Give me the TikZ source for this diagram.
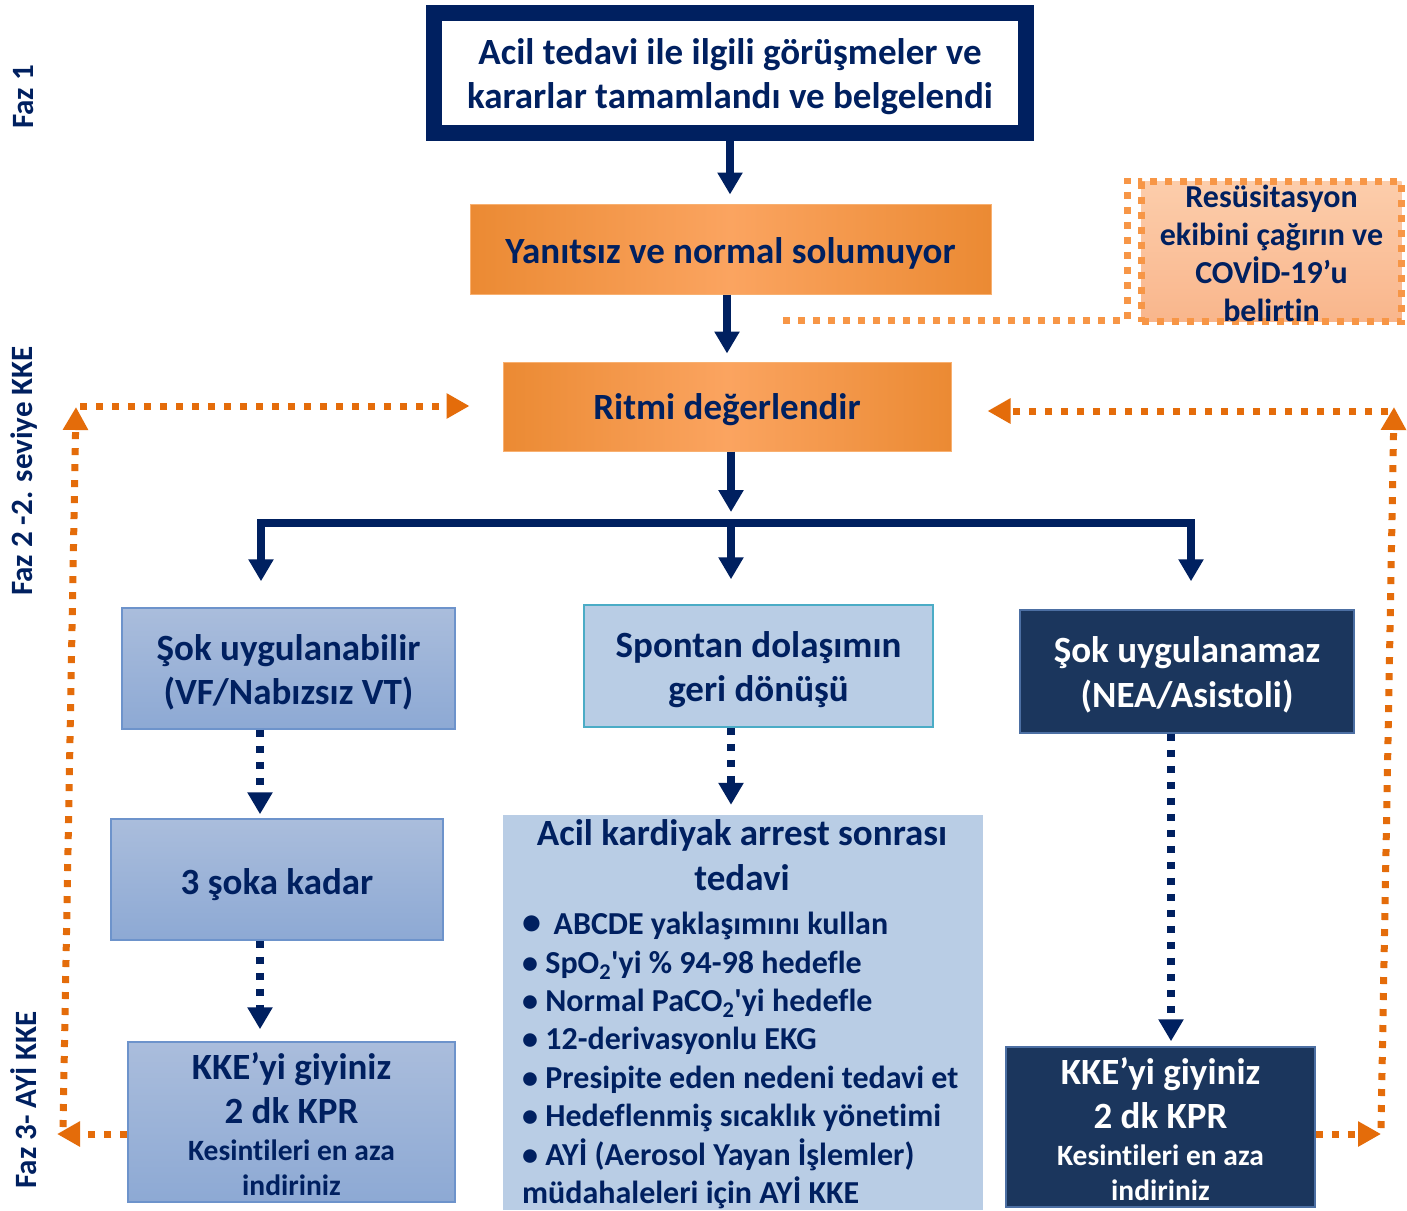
\documentclass[tikz,border=0pt]{standalone}
\usepackage{fontspec}
\setmainfont{Carlito}
\newfontfamily\cf{Carlito}[Ligatures={NoCommon}]
\usetikzlibrary{arrows.meta,calc}
\definecolor{navy}{HTML}{002060}
\definecolor{orA}{HTML}{EB8A33}
\definecolor{orB}{HTML}{FBA460}
\definecolor{orLine}{HTML}{F8B070}
\definecolor{orDot}{HTML}{E46C0A}
\definecolor{ltDot}{HTML}{F79646}
\definecolor{peachT}{HTML}{FCCDAB}
\definecolor{peachB}{HTML}{F9B68C}
\definecolor{bluT}{HTML}{AABDDC}
\definecolor{bluB}{HTML}{8DA9D4}
\definecolor{bluEdge}{HTML}{6D93CB}
\definecolor{ltblue}{HTML}{B9CDE5}
\definecolor{cyanEdge}{HTML}{4BACC6}
\definecolor{dark}{HTML}{1B365D}
\definecolor{darkEdge}{HTML}{4C6FA3}
\newcommand{\fsz}[2]{\cf\bfseries\fontsize{#1}{#2}\selectfont}
\tikzset{
  shp/.style={inner sep=0pt},
  lbl/.style={inner sep=0pt, align=center, text=navy},
  orbox/.style={shp, left color=orA, right color=orA, middle color=orB, draw=orLine, line width=1pt},
  blubox/.style={shp, top color=bluT, bottom color=bluB, draw=bluEdge, line width=1.5pt},
  darkbox/.style={shp, fill=dark, draw=darkEdge, line width=1.5pt},
  arr/.style={draw=navy, line width=7.5pt, -{Triangle[width=24pt,length=22pt]}},
  ndot/.style={draw=navy, line width=8pt, dash pattern=on 7pt off 9pt, -{Triangle[width=24pt,length=22pt]}},
  odot/.style={draw=orDot, line width=7pt, dash pattern=on 7pt off 9pt, -{Triangle[width=24pt,length=23pt]}},
  ldot/.style={draw=ltDot, line width=7pt, dash pattern=on 7pt off 8pt},
  faz/.style={rotate=90, text=navy, inner sep=0pt, font=\fsz{31}{34}},
}
\begin{document}
\begin{tikzpicture}[x=1pt,y=-1pt]
\useasboundingbox[fill=white] (0,0) rectangle (1407,1210);

% phase labels
\node[faz] (faz1) at (24,97) {Faz 1};
\node[faz] (faz2) at (24,471) {Faz 2 -2. seviye KKE};
\node[faz] (faz3) at (24,1100) {Faz 3- AYİ KKE};

% boxes
\node[shp, draw=navy, line width=16pt, fill=white, minimum width=592pt, minimum height=120pt] (top) at (730,73) {};
\node[orbox, minimum width=521pt, minimum height=90pt] (yan) at (730.5,249) {};
\node[orbox, minimum width=448pt, minimum height=89pt] (rit) at (727,406.5) {};
\node[shp, top color=peachT, bottom color=peachB, draw=ltDot, line width=7pt, dash pattern=on 7pt off 8pt,
  minimum width=260pt, minimum height=140pt] (res) at (1271.5,251.5) {};
\node[blubox, minimum width=333pt, minimum height=121pt] (sok1) at (288.5,668.5) {};
\node[blubox, minimum width=332pt, minimum height=121pt] (soka3) at (277,879.5) {};
\node[blubox, minimum width=327pt, minimum height=160pt] (kkeL) at (291.5,1122) {};
\node[shp, fill=ltblue, draw=cyanEdge, line width=1.5pt, minimum width=349pt, minimum height=122pt] (spon) at (758.5,666) {};
\node[shp, fill=ltblue, minimum width=480pt, minimum height=395pt] (post) at (743,1012.5) {};
\node[darkbox, minimum width=334pt, minimum height=123pt] (sok3) at (1187,671.5) {};
\node[darkbox, minimum width=309pt, minimum height=160pt] (kkeR) at (1160.5,1127) {};

% texts
\node[lbl, font=\fsz{37}{44}] (topT) at (730,77) {Acil tedavi ile ilgili görüşmeler ve\\kararlar tamamlandı ve belgelendi};
\node[lbl, font=\fsz{37}{40}] (yanT) at (730.5,253) {Yanıtsız ve normal solumuyor};
\node[lbl, font=\fsz{37}{40}] (ritT) at (727,409.5) {Ritmi değerlendir};
\node[lbl, font=\fsz{32}{38}] (resT) at (1271.5,253.5) {Resüsitasyon\\ekibini çağırın ve\\COVİD-19’u\\belirtin};
\node[lbl, font=\fsz{37}{44}] (sok1T) at (288.5,672.5) {Şok uygulanabilir\\(VF/Nabızsız VT)};
\node[lbl, font=\fsz{37}{44}] (soka3T) at (277,884.5) {3 şoka kadar};
\node[lbl, font=\fsz{37}{44}] (kkeLT) at (291.5,1124.5)
  {KKE’yi giyiniz\\2 dk KPR\\[-7pt]{\fsz{29.5}{35}Kesintileri en aza}\\[-9pt]{\fsz{29.5}{35}indiriniz}};
\node[lbl, font=\fsz{37}{44}] (sponT) at (758.5,670) {Spontan dolaşımın\\geri dönüşü};
\node[lbl, font=\fsz{37}{45}] (ptitle) at (742,855.5) {Acil kardiyak arrest sonrası\\tedavi};
\node[lbl, align=left, anchor=north west, font=\fsz{32}{38.4}] (plist) at (522,912)
  {{\fontsize{38}{38.4}\selectfont•}\,\ ABCDE yaklaşımını kullan\\
   • SpO\textsubscript{2}'yi \% 94-98 hedefle\\
   • Normal PaCO\textsubscript{2}'yi hedefle\\
   • 12-derivasyonlu EKG\\
   • Presipite eden nedeni tedavi et\\
   • Hedeflenmiş sıcaklık yönetimi\\
   • AYİ (Aerosol Yayan İşlemler)\\
   müdahaleleri için AYİ KKE};
\node[lbl, text=white, font=\fsz{37}{45}] (sok3T) at (1187,674.5) {Şok uygulanamaz\\(NEA/Asistoli)};
\node[lbl, text=white, font=\fsz{37}{44}] (kkeRT) at (1160.5,1129.5)
  {KKE’yi giyiniz\\2 dk KPR\\[-7pt]{\fsz{29.5}{35}Kesintileri en aza}\\[-9pt]{\fsz{29.5}{35}indiriniz}};

% coordinates
\coordinate (barL) at (261,523);
\coordinate (barM) at (731,523);
\coordinate (barR) at (1191,523);
\coordinate (xl) at (260,0);
\coordinate (xm) at (731,0);
\coordinate (xr) at (1171,0);

% navy arrows
\draw[arr, shorten >=9pt] (top.south) -- (top.south |- yan.north);
\draw[arr, shorten >=8pt] (rit.north |- yan.south) -- (rit.north);
\draw[arr, shorten >=11pt] (rit.south -| barM) -- (barM);
\draw[draw=navy, line width=7.5pt, line join=miter,
  {Triangle[width=24pt,length=22pt]}-{Triangle[width=24pt,length=22pt]},
  shorten <=26pt, shorten >=28pt]
  (barL |- sok1.north) -- (barL) -- (barR) -- (barR |- sok3.north);
\draw[arr, shorten >=25pt] (barM) -- (barM |- spon.north);

\draw[ndot, shorten >=4pt] (sok1.south -| xl) -- (soka3.north -| xl);
\draw[ndot, shorten >=12pt] (soka3.south -| xl) -- (kkeL.north -| xl);
\draw[ndot, shorten >=10pt] (spon.south -| xm) -- (post.north -| xm);
\draw[ndot, shorten >=5pt] (sok3.south -| xr) -- (kkeR.north -| xr);

% orange loops
\coordinate (oL1) at (57,1134);
\coordinate (oL2) at (63,1127);
\coordinate (oL3) at (76,407);
\coordinate (oL4) at (80,406);
\draw[odot] (kkeL.west |- oL1) -- (oL1);
\draw[odot] (oL2) -- (oL3);
\draw[odot, shorten >=33pt] (oL4) -- (oL4 -| rit.west);

\coordinate (oR1) at (1381,1134);
\coordinate (oR2) at (1381,1128);
\coordinate (oR3) at (1394,407);
\coordinate (oR4) at (1388,411);
\draw[odot] (kkeR.east |- oR1) -- (oR1);
\draw[odot] (oR2) -- (oR3);
\draw[odot, shorten >=36pt] (oR4) -- (oR4 -| rit.east);

% resuscitation connector
\coordinate (rA) at (783,320);
\draw[ldot] (rA) -| ([xshift=-11pt]res.north west);
\end{tikzpicture}
\end{document}
